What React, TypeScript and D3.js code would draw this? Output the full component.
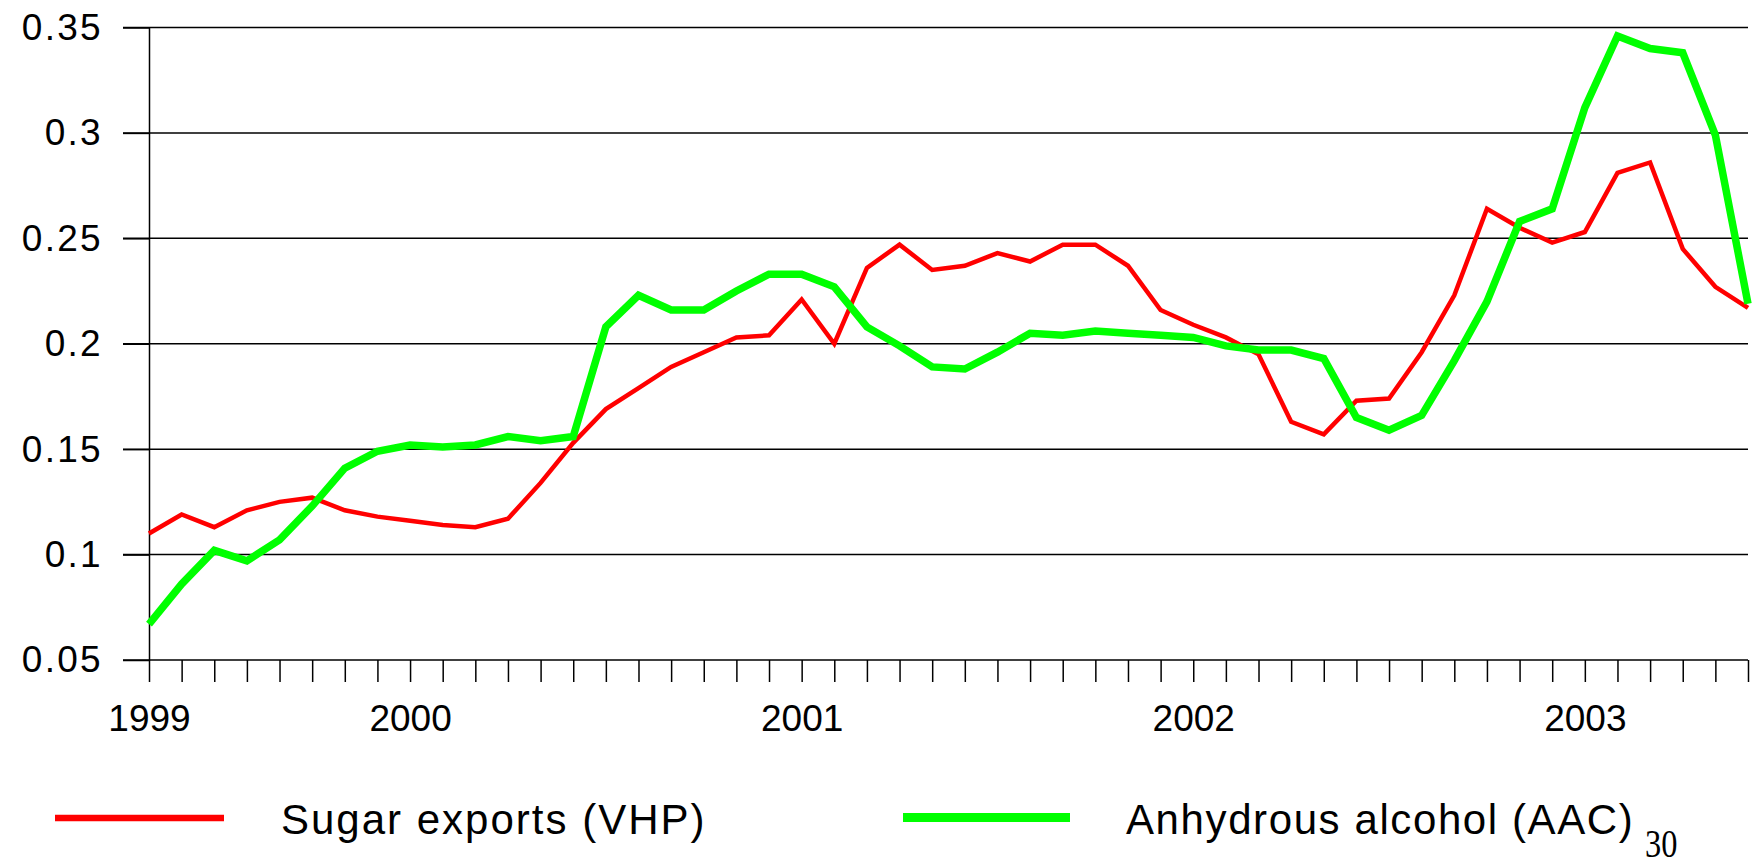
import { useEffect, useRef } from "react";
import * as d3 from "d3";

// monthly observations, May 1999 .. June 2003
const months: string[] = [
  "1999-05", "1999-06", "1999-07", "1999-08", "1999-09", "1999-10", "1999-11", "1999-12",
  "2000-01", "2000-02", "2000-03", "2000-04", "2000-05", "2000-06", "2000-07", "2000-08",
  "2000-09", "2000-10", "2000-11", "2000-12", "2001-01", "2001-02", "2001-03", "2001-04",
  "2001-05", "2001-06", "2001-07", "2001-08", "2001-09", "2001-10", "2001-11", "2001-12",
  "2002-01", "2002-02", "2002-03", "2002-04", "2002-05", "2002-06", "2002-07", "2002-08",
  "2002-09", "2002-10", "2002-11", "2002-12", "2003-01", "2003-02", "2003-03", "2003-04",
  "2003-05", "2003-06",
];

const sugarVHP: number[] = [
  0.110, 0.119, 0.113, 0.121, 0.125, 0.127, 0.121, 0.118, 0.116, 0.114,
  0.113, 0.117, 0.134, 0.153, 0.169, 0.179, 0.189, 0.196, 0.203, 0.204,
  0.221, 0.200, 0.236, 0.247, 0.235, 0.237, 0.243, 0.239, 0.247, 0.247,
  0.237, 0.216, 0.209, 0.203, 0.195, 0.163, 0.157, 0.173, 0.174, 0.196,
  0.223, 0.264, 0.255, 0.248, 0.253, 0.281, 0.286, 0.245, 0.227, 0.217,
];

const alcoholAAC: number[] = [
  0.067, 0.086, 0.102, 0.097, 0.107, 0.123, 0.141, 0.149, 0.152, 0.151,
  0.152, 0.156, 0.154, 0.156, 0.208, 0.223, 0.216, 0.216, 0.225, 0.233,
  0.233, 0.227, 0.208, 0.199, 0.189, 0.188, 0.196, 0.205, 0.204, 0.206,
  0.205, 0.204, 0.203, 0.199, 0.197, 0.197, 0.193, 0.165, 0.159, 0.166,
  0.192, 0.220, 0.258, 0.264, 0.312, 0.346, 0.340, 0.338, 0.299, 0.219,
];

const yTicks: number[] = [0.05, 0.1, 0.15, 0.2, 0.25, 0.3, 0.35];
const yearLabels: string[] = ["1999", "2000", "2001", "2002", "2003"];
const yearMonths: string[] = ["1999-05", "2000-01", "2001-01", "2002-01", "2003-01"];

function App() {
  const svgRef = useRef<SVGSVGElement>(null);

  useEffect(() => {
    if (!svgRef.current) return;
    const svg = d3.select(svgRef.current);
    svg.selectAll("*").remove();

    const width = 1754;
    const height = 858;
    svg.attr("width", width).attr("height", height);

    const left = 149;
    const right = 1748;
    const top = 27.5;
    const bottom = 660;
    const font = "'Liberation Sans', Arial, sans-serif";

    const x = d3.scalePoint<string>().domain(months).range([left, right]);
    const y = d3.scaleLinear().domain([0.05, 0.35]).range([bottom, top]);

    // gridlines
    svg
      .append("g")
      .selectAll("line")
      .data(yTicks)
      .join("line")
      .attr("x1", left - 26)
      .attr("x2", right)
      .attr("y1", (d) => y(d))
      .attr("y2", (d) => y(d))
      .attr("stroke", "#000")
      .attr("stroke-width", 1.5);

    // y axis
    const gy = svg
      .append("g")
      .attr("transform", `translate(${left},0)`)
      .call(
        d3
          .axisLeft(y)
          .tickValues(yTicks)
          .tickSize(26)
          .tickSizeOuter(0)
          .tickPadding(20)
          .tickFormat((d) => String(d))
      );
    gy.selectAll("path, line").attr("stroke", "#000").attr("stroke-width", 1.5);
    gy.selectAll("text")
      .attr("font-family", font)
      .attr("font-size", 37)
      .attr("letter-spacing", 2.3)
      .attr("fill", "#000");

    // x axis
    const labelFor = new Map(yearMonths.map((m, i) => [m, yearLabels[i]]));
    const gx = svg
      .append("g")
      .attr("transform", `translate(0,${bottom})`)
      .call(
        d3
          .axisBottom(x)
          .tickSize(22)
          .tickPadding(23)
          .tickFormat((m) => labelFor.get(m) ?? "")
      );
    gx.select(".domain").remove();
    gx.selectAll("line").attr("stroke", "#000").attr("stroke-width", 1.5);
    gx.selectAll("text").attr("font-family", font).attr("font-size", 37).attr("fill", "#000");

    // series
    const line = d3
      .line<number>()
      .x((_, i) => x(months[i])!)
      .y((d) => y(d));

    svg
      .append("path")
      .datum(sugarVHP)
      .attr("d", line)
      .attr("fill", "none")
      .attr("stroke", "#ff0000")
      .attr("stroke-width", 4.5)
      .attr("stroke-linejoin", "miter");

    svg
      .append("path")
      .datum(alcoholAAC)
      .attr("d", line)
      .attr("fill", "none")
      .attr("stroke", "#00ff00")
      .attr("stroke-width", 7.5)
      .attr("stroke-linejoin", "miter");

    // legend
    const legend = svg.append("g");
    legend
      .append("line")
      .attr("x1", 55)
      .attr("x2", 224)
      .attr("y1", 818)
      .attr("y2", 818)
      .attr("stroke", "#ff0000")
      .attr("stroke-width", 6.5);
    legend
      .append("text")
      .attr("x", 281)
      .attr("y", 834)
      .attr("font-family", font)
      .attr("font-size", 42)
      .attr("letter-spacing", 2)
      .text("Sugar exports (VHP)");
    legend
      .append("line")
      .attr("x1", 903)
      .attr("x2", 1070)
      .attr("y1", 817.5)
      .attr("y2", 817.5)
      .attr("stroke", "#00ff00")
      .attr("stroke-width", 9);
    legend
      .append("text")
      .attr("x", 1126)
      .attr("y", 834)
      .attr("font-family", font)
      .attr("font-size", 42)
      .attr("letter-spacing", 1.6)
      .text("Anhydrous alcohol (AAC)");

    // page number, narrow serif
    svg
      .append("text")
      .attr("transform", "translate(1645,857) scale(0.79,1)")
      .attr("font-family", "'Liberation Serif', 'Times New Roman', serif")
      .attr("font-size", 41)
      .text("30");
  }, []);

  return (
    <svg
      ref={svgRef}
      style={{ position: "absolute", left: 0, top: 0, background: "#fff" }}
    ></svg>
  );
}

export default App;
